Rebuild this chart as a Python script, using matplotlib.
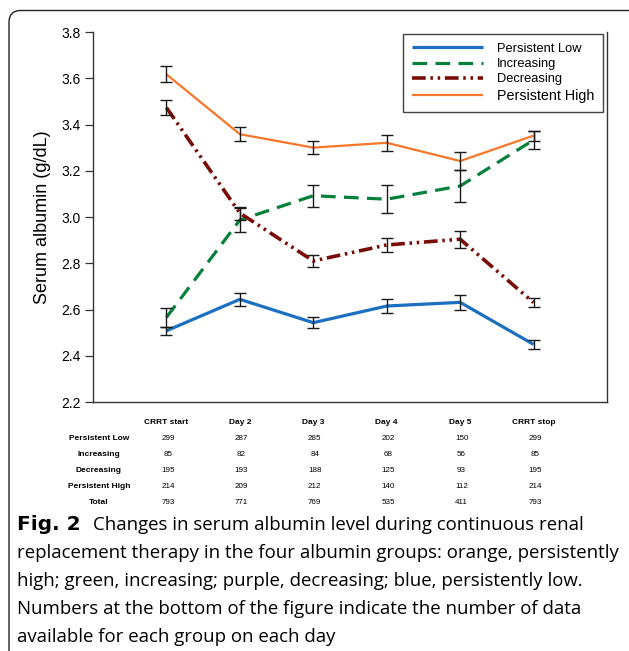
import matplotlib
matplotlib.use("Agg")
import matplotlib.pyplot as plt
from matplotlib.patches import FancyBboxPatch
from matplotlib.transforms import blended_transform_factory

# ---- data ----
timepoints = ["CRRT start", "Day 2", "Day 3", "Day 4", "Day 5", "CRRT stop"]
groups = ["Persistent Low", "Increasing", "Decreasing", "Persistent High"]

persistent_low = [2.508, 2.644, 2.543, 2.615, 2.631, 2.449]
persistent_low_err = [0.018, 0.027, 0.024, 0.029, 0.032, 0.020]

increasing = [2.566, 2.987, 3.092, 3.077, 3.134, 3.333]
increasing_err = [0.040, 0.050, 0.048, 0.060, 0.068, 0.040]

decreasing = [3.473, 3.017, 2.810, 2.879, 2.904, 2.630]
decreasing_err = [0.031, 0.028, 0.027, 0.030, 0.036, 0.018]

persistent_high = [3.617, 3.358, 3.300, 3.321, 3.242, 3.352]
persistent_high_err = [0.035, 0.030, 0.027, 0.035, 0.040, 0.022]

n_persistent_low = [299, 287, 285, 202, 150, 299]
n_increasing = [85, 82, 84, 68, 56, 85]
n_decreasing = [195, 193, 188, 125, 93, 195]
n_persistent_high = [214, 209, 212, 140, 112, 214]
n_total = [793, 771, 769, 535, 411, 793]

caption_label = "Fig. 2"
caption_lines = [
    "Changes in serum albumin level during continuous renal",
    "replacement therapy in the four albumin groups: orange, persistently",
    "high; green, increasing; purple, decreasing; blue, persistently low.",
    "Numbers at the bottom of the figure indicate the number of data",
    "available for each group on each day",
]

# ---- figure ----
W, H = 629, 651
fig = plt.figure(figsize=(W / 100, H / 100), dpi=100)
fig.patch.set_facecolor("white")

# rounded frame around the figure panel
frame = FancyBboxPatch((9 / W, -20 / H), 640 / W, (H - 10.5 + 20) / H,
                       boxstyle="round,pad=0,rounding_size=0.018",
                       transform=fig.transFigure, fill=False,
                       edgecolor="#222222", linewidth=1.0)
fig.add_artist(frame)

ax = fig.add_axes([93 / W, 1 - 402 / H, (607 - 93) / W, (402 - 32) / H])
x = list(range(1, len(timepoints) + 1))

series = [
    (persistent_low, persistent_low_err, "#1a6fc1", "-", 2.3),
    (increasing, increasing_err, "#05803a", (0, (4.6, 2.6)), 2.3),
    (decreasing, decreasing_err, "#7a0c06", (0, (3.8, 1.3, 0.7, 1.3, 0.7, 1.3)), 2.6),
    (persistent_high, persistent_high_err, "#f7772a", "-", 1.6),
]

handles = []
for vals, errs, color, ls, lw in series:
    (ln,) = ax.plot(x, vals, color=color, linestyle=ls, linewidth=lw,
                    solid_capstyle="butt", dash_capstyle="butt", zorder=2)
    handles.append(ln)
for vals, errs, color, ls, lw in series:
    ax.errorbar(x, vals, yerr=errs, fmt="none", ecolor="#1a1a1a",
                elinewidth=1.0, capsize=4, capthick=1.0, zorder=3)

ax.set_xlim(0, 7)
ax.set_ylim(2.2, 3.8)
ax.set_yticks([2.2, 2.4, 2.6, 2.8, 3.0, 3.2, 3.4, 3.6, 3.8])
ax.set_yticklabels(["2.2", "2.4", "2.6", "2.8", "3.0", "3.2", "3.4", "3.6", "3.8"],
                   fontfamily="Liberation Sans", fontsize=10)
ax.set_xticks([])
ax.tick_params(axis="y", direction="out", length=6, width=0.9, color="#333333", pad=3)
ax.spines["top"].set_visible(False)
for s in ["left", "bottom", "right"]:
    ax.spines[s].set_linewidth(1.0)
    ax.spines[s].set_color("#333333")
ax.set_ylabel("Serum albumin (g/dL)", fontfamily="Liberation Sans", fontsize=13,
              labelpad=7)

leg = ax.legend(handles, groups, loc="upper right", bbox_to_anchor=(0.993, 0.995),
                borderaxespad=0, frameon=True, fancybox=False, handlelength=5.5,
                handletextpad=1.1, labelspacing=0.25, borderpad=0.7,
                prop={"family": "Liberation Sans", "size": 9.3})
leg.get_frame().set_edgecolor("#111111")
leg.get_frame().set_linewidth(1.0)
leg.get_texts()[3].set_fontsize(10.3)

# ---- count table under the axis ----
tr = blended_transform_factory(ax.transData, fig.transFigure)
def fy(py):
    return 1 - py / H

tfont = "Liberation Sans"
for xi, lab in zip(x, timepoints):
    fig.text(xi, fy(422), lab, transform=tr, ha="center", va="center",
             fontsize=6.0, fontweight="bold", fontfamily=tfont)

rows = [("Persistent Low", n_persistent_low),
        ("Increasing", n_increasing),
        ("Decreasing", n_decreasing),
        ("Persistent High", n_persistent_high),
        ("Total", n_total)]
row_y = [438, 454, 470, 486, 502]
for (lab, counts), py in zip(rows, row_y):
    fig.text(99 / W, fy(py), lab, ha="center", va="center", fontsize=6.0,
             fontweight="bold", fontfamily=tfont)
    for xi, c in zip(x, counts):
        fig.text(xi + 0.02, fy(py), str(c), transform=tr, ha="center", va="center",
                 fontsize=5.8, fontfamily=tfont)

# ---- caption ----
cap_font = "Open Sans"
cap_size = 13.4
line_y = [525, 553, 581, 609, 637]
t0 = fig.text(17 / W, fy(line_y[0]), caption_label, ha="left", va="center",
              fontsize=14.5, fontweight="bold", fontfamily="DejaVu Sans")
fig.canvas.draw()
x_after = t0.get_window_extent().x1
fig.text((x_after + 12) / W, fy(line_y[0]), caption_lines[0], ha="left", va="center",
         fontsize=cap_size, fontfamily=cap_font)
for ln_text, py in zip(caption_lines[1:], line_y[1:]):
    fig.text(17 / W, fy(py), ln_text, ha="left", va="center",
             fontsize=cap_size, fontfamily=cap_font)

fig.savefig("out.png", dpi=100, facecolor="white")
